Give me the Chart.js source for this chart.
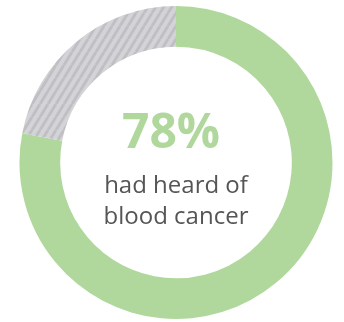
<!DOCTYPE html>
<html>
<head>
<meta charset="utf-8">
<script src="https://cdn.jsdelivr.net/npm/chart.js@4/dist/chart.umd.min.js"></script>
<style>
  html, body { margin: 0; padding: 0; background: #fff; }
  #wrap { width: 344px; height: 322px; }
</style>
</head>
<body>
<div id="wrap"><canvas id="myChart"></canvas></div>
<script>
const labels = ['Had heard of blood cancer', 'Had not heard'];
const values = [78, 22];
const bigText = '78%';
const subText = ['had heard of', 'blood cancer'];

function stripes() {
  const c = document.createElement('canvas');
  c.width = 8;
  c.height = 13;
  const g = c.getContext('2d');
  g.fillStyle = '#d4d4d8';
  g.fillRect(0, 0, 8, 13);
  g.strokeStyle = '#bfbfc4';
  g.lineWidth = 3;
  g.beginPath();
  for (let k = -8; k <= 16; k += 8) {
    g.moveTo(k, 13);
    g.lineTo(k + 8, 0);
  }
  g.stroke();
  return g.createPattern(c, 'repeat');
}

const centerText = {
  id: 'centerText',
  afterDraw(chart) {
    const meta = chart.getDatasetMeta(0).data[0];
    const ctx = chart.ctx;
    const x = meta.x, y = meta.y;
    ctx.save();
    ctx.textAlign = 'center';
    ctx.textBaseline = 'alphabetic';
    ctx.fillStyle = '#b1d89c';
    ctx.font = 'bold 48px "Open Sans"';
    ctx.fillText(bigText, x - 5, y - 15);
    ctx.fillStyle = '#555555';
    ctx.font = '24px "Open Sans"';
    ctx.fillText(subText[0], x, y + 30);
    ctx.fillText(subText[1], x, y + 61);
    ctx.restore();
  }
};

const ctx = document.getElementById('myChart').getContext('2d');
const myChart = new Chart(ctx, {
  type: 'doughnut',
  data: {
    labels: labels,
    datasets: [{
      data: values,
      backgroundColor: ['#b1d89c', stripes()],
      borderWidth: 0
    }]
  },
  options: {
    responsive: true,
    maintainAspectRatio: false,
    animation: false,
    cutout: '74%',
    layout: { padding: { left: 19, right: 11, top: 6, bottom: 3 } },
    plugins: { legend: { display: false }, tooltip: { enabled: false } }
  },
  plugins: [centerText]
});
</script>
</body>
</html>
